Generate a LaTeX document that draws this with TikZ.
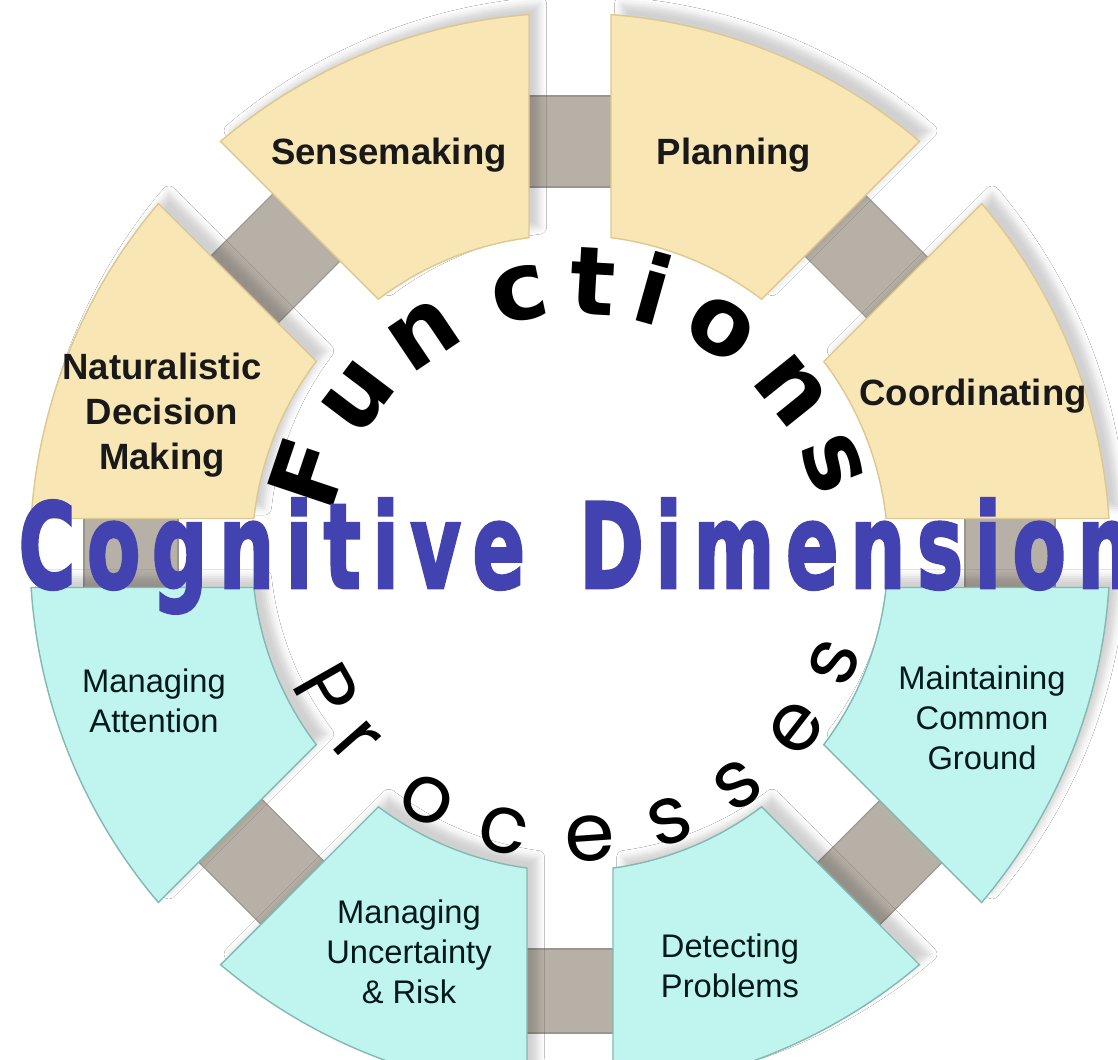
\documentclass[tikz,border=0pt]{standalone}
\usepackage{fontspec}
\setmainfont{Liberation Sans}
\newfontfamily\funcfont{DejaVu Sans}
\newfontfamily\procfont{Poppins}
\newfontfamily\titlefont{DejaVu Sans}[LetterSpace=14.5, FakeBold=2.5]
\usetikzlibrary{positioning,shadows.blur}

\definecolor{funcfill}{RGB}{248,230,180}
\definecolor{funcline}{RGB}{222,200,145}
\definecolor{procfill}{RGB}{192,244,238}
\definecolor{procline}{RGB}{130,185,178}
\definecolor{linkgray}{RGB}{182,176,166}
\definecolor{titleblue}{RGB}{66,66,176}

\tikzset{
  partshadow/.style={blur shadow={shadow xshift=3pt, shadow yshift=3pt,
      shadow blur radius=2pt, shadow opacity=18}},
  funcpart/.style={fill=funcfill, draw=funcline, line width=0.4pt, partshadow},
  procpart/.style={fill=procfill, draw=procline, line width=0.4pt, partshadow},
  linkbar/.style={fill=linkgray, draw=linkgray!85!black, line width=0.3pt},
  funclabel/.style={font=\bfseries\fontsize{10.4}{12.7}\selectfont, align=center, text=black!90},
  proclabel/.style={font=\fontsize{9.3}{11.4}\selectfont, align=center, text=black!80!teal},
  funcletter/.style={font=\funcfont\bfseries\fontsize{27}{27}\selectfont, anchor=base, inner sep=0pt},
  procletter/.style={font=\procfont\fontsize{23}{23}\selectfont, anchor=base, inner sep=0pt},
  dimtitle/.style={font=\titlefont\bfseries\fontsize{33.6}{34}\selectfont, text=titleblue,
      xscale=0.66, anchor=base west, inner sep=0pt},
}

\def\rin{3.18}
\def\rout{5.40}
% #1 style, #2/#3 start/end angle, #4/#5 half gap at start/end
\newcommand{\ringpart}[5]{%
  \draw[#1] ({#2+asin(#4/\rin)}:\rin) -- ({#2+asin(#4/\rout)}:\rout)
    arc[start angle={#2+asin(#4/\rout)}, end angle={#3-asin(#5/\rout)}, radius=\rout]
    -- ({#3-asin(#5/\rin)}:\rin)
    arc[start angle={#3-asin(#5/\rin)}, end angle={#2+asin(#4/\rin)}, radius=\rin] -- cycle;}
% #1 angle, #2/#3 inner/outer radius, #4 half width
\newcommand{\ringlink}[4]{%
  \draw[linkbar, rotate=#1] (#2,-#4) rectangle (#3,#4);}

\begin{document}
\begin{tikzpicture}
  \useasboundingbox[fill=white] (-5.70,-5.06) rectangle (5.48,5.53);

  % Links
  \ringlink{90}{3.66}{4.57}{0.43}
  \ringlink{135}{3.69}{4.64}{0.46}
  \ringlink{45}{3.76}{4.62}{0.46}
  \ringlink{0}{3.95}{4.85}{0.37}
  \ringlink{180}{3.92}{4.86}{0.37}
  \ringlink{-45}{3.94}{4.82}{0.46}
  \ringlink{-90}{3.96}{4.80}{0.45}
  \ringlink{-135}{3.92}{4.81}{0.46}

  % Functions
  \ringpart{funcpart}{0}{45}{0.345}{0.44}
  \ringpart{funcpart}{45}{90}{0.44}{0.41}
  \ringpart{funcpart}{90}{135}{0.41}{0.44}
  \ringpart{funcpart}{135}{180}{0.44}{0.345}

  % Processes
  \ringpart{procpart}{180}{225}{0.345}{0.44}
  \ringpart{procpart}{225}{270}{0.44}{0.43}
  \ringpart{procpart}{270}{315}{0.43}{0.44}
  \ringpart{procpart}{315}{360}{0.44}{0.345}

  % Labels
  \node[funclabel] (sense) at (-1.81,3.98) {Sensemaking};
  \node[funclabel] (plan) at (1.64,3.98) {Planning};
  \node[funclabel] (coord) at (4.03,1.57) {Coordinating};
  \node[funclabel] (ndm) at (-4.08,1.38) {Naturalistic\\Decision\\Making};
  \node[proclabel] (attn) at (-4.16,-1.48) {Managing\\Attention};
  \node[proclabel] (risk) at (-1.61,-3.99) {Managing\\Uncertainty\\\& Risk};
  \node[proclabel] (ground) at (4.12,-1.65) {Maintaining\\Common\\Ground};
  \node[proclabel] (detect) at (1.60,-4.13) {Detecting\\Problems};

  % Arc words
  \begin{scope}[shift={(0.07,-0.10)}]
    \foreach \ch/\ang in {F/161.4, u/142.9, n/123.9, c/102.0, t/86.8, i/74.3, o/58.5, n/38.8, s/21.2}
      \node[funcletter, rotate=\ang-90] at (\ang:2.49) {\ch};
  \end{scope}
  \foreach \ch/\ang in {P/-150.4, r/-138.6, o/-120, c/-103.4, e/-86, s/-69.7, s/-54.2, e/-37.8, s/-22.5}
    \node[procletter, rotate=\ang+90] at (\ang:3.08) {\ch};

  % Title
  \node[dimtitle] (title) at (-5.52,-0.35) {Cognitive\hspace{0.2em} Dimension};
\end{tikzpicture}
\end{document}
